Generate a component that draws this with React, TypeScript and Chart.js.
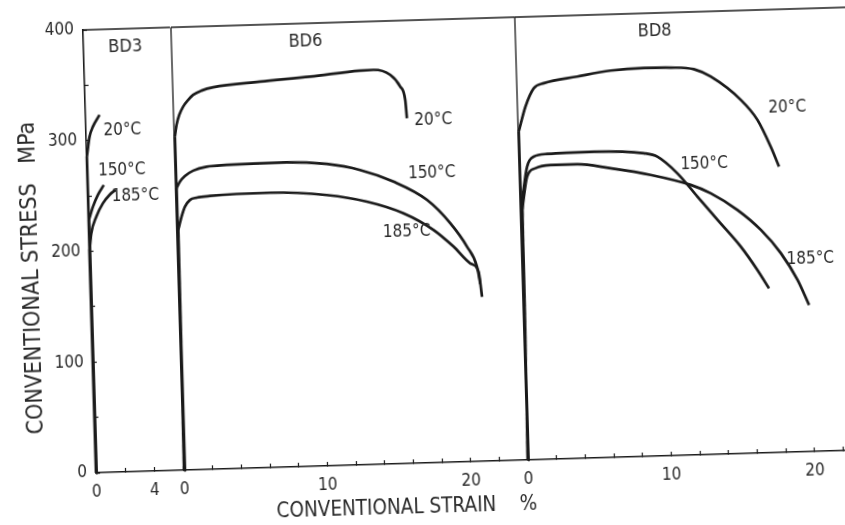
import React, { useEffect, useRef } from 'react';
import { Chart, registerables } from 'chart.js';

Chart.register(...registerables);

// ---------- data ----------
const temperatures = ['20°C', '150°C', '185°C'];
const panelNames = ['BD3', 'BD6', 'BD8'];

const stressTickLabels = [0, 100, 200, 300, 400];
const bd3StrainTickLabels = [0, 4];
const bd6StrainTickLabels = [0, 10, 20];
const bd8StrainTickLabels = [0, 10, 20];

// BD3
const bd3Strain20 = [0, 0.01, 0.24, 0.49, 0.97];
const bd3Stress20 = [0, 285.5, 303.6, 312.5, 322.9];
const bd3Strain150 = [0, 0.02, 0.33, 0.69, 1.12];
const bd3Stress150 = [0, 228.4, 240.3, 250.7, 259.5];
const bd3Strain185 = [0, 0.01, 0.16, 0.54, 1.02, 1.49, 1.91];
const bd3Stress185 = [0, 201.3, 216.3, 231.2, 243, 250.4, 254.7];

// BD6
const bd6Strain20 = [0, 0.05, 0.19, 0.4, 0.69, 1.05, 1.41, 2.01, 2.83, 6.1, 9.6, 13.1, 14.04, 15.2, 15.87, 16.19, 16.27];
const bd6Stress20 = [0, 301.2, 311.8, 320.7, 328.1, 334, 338.4, 342.1, 344.8, 348.6, 351.8, 355.9, 356.2, 351.2, 340.4, 328.2, 311.7];
const bd6Strain150 = [0, 0.06, 0.31, 0.67, 1.26, 2.2, 3.6, 7.8, 10.59, 12.9, 15.2, 17.5, 19.08, 20.2, 20.85, 21.05];
const bd6Stress150 = [0, 254.6, 260.5, 265.5, 270.1, 273.3, 274.3, 275.1, 272.5, 266.2, 254.8, 237.4, 215.7, 194.1, 175.8, 160];
const bd6Strain185 = [0, 0.09, 0.35, 0.61, 0.97, 1.44, 2.37, 6.57, 10.52, 13.3, 15.83, 17.9, 19.26, 20.39, 20.95, 21.14];
const bd6Stress185 = [0, 216.9, 228.8, 237.8, 243.7, 245.6, 246.8, 248.1, 244.5, 237.5, 226, 210.1, 194.5, 179, 171.2, 148.5];

// BD8
const bd8Strain20 = [0, 0.04, 0.56, 1.18, 1.89, 4.23, 6.57, 8.9, 10.77, 12.39, 13.54, 15.59, 16.71, 17.58, 18.12];
const bd8Stress20 = [0, 296.6, 319, 335.4, 339.6, 344.7, 349.2, 350.7, 350.3, 348.2, 341.1, 319.3, 300.8, 276.3, 258];
const bd8Strain150 = [0, 0.14, 0.55, 1.03, 1.98, 5.24, 8.72, 9.65, 11.01, 12.37, 13.72, 15.29, 16.4, 17.17];
const bd8Stress150 = [0, 234.8, 264.7, 273.6, 275.7, 276.5, 273.7, 270.3, 254.8, 233.1, 211.6, 186.8, 165.3, 148.4];
const bd8Strain185 = [0, 0.12, 0.53, 1.13, 2.19, 4.05, 6.37, 9.15, 11.92, 13.3, 15.13, 16.72, 18.07, 19.18, 19.93];
const bd8Stress185 = [0, 225.8, 255.7, 263.1, 265.6, 265.6, 261, 254, 243.9, 235.8, 220, 201.4, 179.8, 155.2, 132.3];

// where the panel name and curve labels sit, in (strain, stress)
const bd3LabelStrain = [2.88, 2.51, 2.39, 3.27];
const bd3LabelStress = [383, 308.7, 272.6, 248.8];
const bd6LabelStrain = [9.36, 18.1, 17.89, 16.02];
const bd6LabelStress = [383.7, 309.4, 261.6, 209];
const bd8LabelStrain = [9.73, 18.82, 12.9, 20.11];
const bd8LabelStress = [383.8, 310.8, 262.5, 173.8];

const yTitle = 'CONVENTIONAL STRESS   MPa';
const xTitle = 'CONVENTIONAL STRAIN    %';

// ---------- style ----------
const FONT = "'DejaVu Sans Condensed', 'DejaVu Sans', sans-serif";
const INK = '#1b1b1b';
const TEXT = '#2a2a2a';

type Caption = { text: string; dx: number; dy: number; fromBottom: boolean; rot: number; size: number };

function makeOverlay(
  name: string,
  labelStrain: number[],
  labelStress: number[],
  captions: Caption[],
  leftEdge: boolean
) {
  return {
    id: 'overlay',
    afterDatasetsDraw(chart: any) {
      const { ctx, chartArea, scales } = chart;
      ctx.save();
      ctx.strokeStyle = INK;
      ctx.lineWidth = 1.3;
      ctx.beginPath();
      ctx.moveTo(chartArea.left, chartArea.top);
      ctx.lineTo(chartArea.right, chartArea.top);
      if (leftEdge) {
        ctx.moveTo(chartArea.left, chartArea.top);
        ctx.lineTo(chartArea.left, chartArea.bottom);
      }
      ctx.stroke();
      ctx.fillStyle = TEXT;
      ctx.textAlign = 'center';
      ctx.textBaseline = 'middle';
      const texts = [name, ...temperatures];
      texts.forEach((t, i) => {
        ctx.font = `${i === 0 ? 18 : 17}px ${FONT}`;
        ctx.fillText(t, scales.x.getPixelForValue(labelStrain[i]), scales.y.getPixelForValue(labelStress[i]));
      });
      captions.forEach((c) => {
        ctx.save();
        ctx.translate(chartArea.left + c.dx, (c.fromBottom ? chartArea.bottom : chartArea.top) + c.dy);
        ctx.rotate(c.rot);
        ctx.font = `${c.size}px ${FONT}`;
        ctx.fillText(c.text, 0, 0);
        ctx.restore();
      });
      ctx.restore();
    },
  };
}

// each curve: straight elastic rise from the origin, then a smooth plastic part
function series(strain: number[], stress: number[], label: string) {
  const pts = strain.map((x, i) => ({ x, y: stress[i] }));
  const common = {
    borderColor: INK,
    backgroundColor: INK,
    borderWidth: 2.7,
    pointRadius: 0,
    fill: false,
    clip: false as const,
  };
  return [
    { ...common, label: label + ' elastic', data: pts.slice(0, 2), tension: 0 },
    { ...common, label, data: pts.slice(1), cubicInterpolationMode: 'monotone' as const },
  ];
}

function tickGrid() {
  return {
    display: true,
    drawOnChartArea: false,
    drawTicks: true,
    tickLength: -4,
    tickColor: INK,
    tickWidth: 1.2,
  };
}

function makeConfig(opts: {
  datasets: any[];
  xMax: number;
  xLabels: number[];
  showY: boolean;
  padLeft: number;
  padRight: number;
  overlay: any;
}) {
  return {
    type: 'line' as const,
    data: { datasets: opts.datasets },
    plugins: [opts.overlay],
    options: {
      animation: false as const,
      responsive: false,
      devicePixelRatio: 1,
      layout: { padding: { top: 40, bottom: 0, left: opts.padLeft, right: opts.padRight } },
      plugins: { legend: { display: false }, tooltip: { enabled: false } },
      scales: {
        x: {
          type: 'linear' as const,
          min: 0,
          max: opts.xMax,
          afterFit: (s: any) => {
            s.height = 62;
          },
          border: { display: true, color: INK, width: 1.6 },
          grid: tickGrid(),
          ticks: {
            stepSize: 2,
            autoSkip: false,
            maxRotation: 0,
            padding: 13,
            color: TEXT,
            font: { family: FONT, size: 17 },
            callback: (v: any) => (opts.xLabels.includes(Number(v)) ? String(v) : ''),
          },
        },
        y: {
          type: 'linear' as const,
          min: 0,
          max: 400,
          display: opts.showY,
          afterFit: (s: any) => {
            s.width = opts.showY ? 110 : 0;
          },
          border: { display: true, color: INK, width: 1.6 },
          grid: tickGrid(),
          ticks: {
            stepSize: 50,
            padding: 13,
            color: TEXT,
            font: { family: FONT, size: 17 },
            callback: (v: any) => (stressTickLabels.includes(Number(v)) ? String(v) : ''),
          },
        },
      },
    },
  };
}

export default function App() {
  const r1 = useRef<HTMLCanvasElement>(null);
  const r2 = useRef<HTMLCanvasElement>(null);
  const r3 = useRef<HTMLCanvasElement>(null);

  useEffect(() => {
    const c1 = new Chart(
      r1.current as HTMLCanvasElement,
      makeConfig({
        datasets: [
          ...series(bd3Strain20, bd3Stress20, temperatures[0]),
          ...series(bd3Strain150, bd3Stress150, temperatures[1]),
          ...series(bd3Strain185, bd3Stress185, temperatures[2]),
        ],
        xMax: 6,
        xLabels: bd3StrainTickLabels,
        showY: true,
        padLeft: 0,
        padRight: 12,
        overlay: makeOverlay(
          panelNames[0],
          bd3LabelStrain,
          bd3LabelStress,
          [{ text: yTitle, dx: -58, dy: 246.4, fromBottom: false, rot: -Math.PI / 2, size: 23 }],
          false
        ),
      }) as any
    );
    const c2 = new Chart(
      r2.current as HTMLCanvasElement,
      makeConfig({
        datasets: [
          ...series(bd6Strain20, bd6Stress20, temperatures[0]),
          ...series(bd6Strain150, bd6Stress150, temperatures[1]),
          ...series(bd6Strain185, bd6Stress185, temperatures[2]),
        ],
        xMax: 24,
        xLabels: bd6StrainTickLabels,
        showY: false,
        padLeft: 20,
        padRight: 20,
        overlay: makeOverlay(
          panelNames[1],
          bd6LabelStrain,
          bd6LabelStress,
          [{ text: xTitle, dx: 221.7, dy: 45, fromBottom: true, rot: 0, size: 20.5 }],
          true
        ),
      }) as any
    );
    const c3 = new Chart(
      r3.current as HTMLCanvasElement,
      makeConfig({
        datasets: [
          ...series(bd8Strain20, bd8Stress20, temperatures[0]),
          ...series(bd8Strain150, bd8Stress150, temperatures[1]),
          ...series(bd8Strain185, bd8Stress185, temperatures[2]),
        ],
        xMax: 24,
        xLabels: bd8StrainTickLabels,
        showY: false,
        padLeft: 20,
        padRight: 20,
        overlay: makeOverlay(panelNames[2], bd8LabelStrain, bd8LabelStress, [], true),
      }) as any
    );
    return () => {
      c1.destroy();
      c2.destroy();
      c3.destroy();
    };
  }, []);

  const cv = (left: number, width: number): React.CSSProperties => ({
    position: 'absolute',
    left,
    top: 0,
    width,
    height: 545,
  });

  return (
    <div
      style={{
        position: 'absolute',
        left: 0,
        top: 0,
        width: 845,
        height: 525,
        overflow: 'hidden',
        background: '#fff',
      }}
    >
      <div
        style={{
          position: 'absolute',
          left: -20,
          top: -20,
          width: 930,
          height: 580,
          transform: 'rotate(-1.7deg)',
          transformOrigin: '442.5px 282.5px',
        }}
      >
        <canvas ref={r1} width={210} height={545} style={cv(0, 210)} />
        <canvas ref={r2} width={384} height={545} style={cv(178, 384)} />
        <canvas ref={r3} width={384} height={545} style={cv(522, 384)} />
      </div>
    </div>
  );
}
